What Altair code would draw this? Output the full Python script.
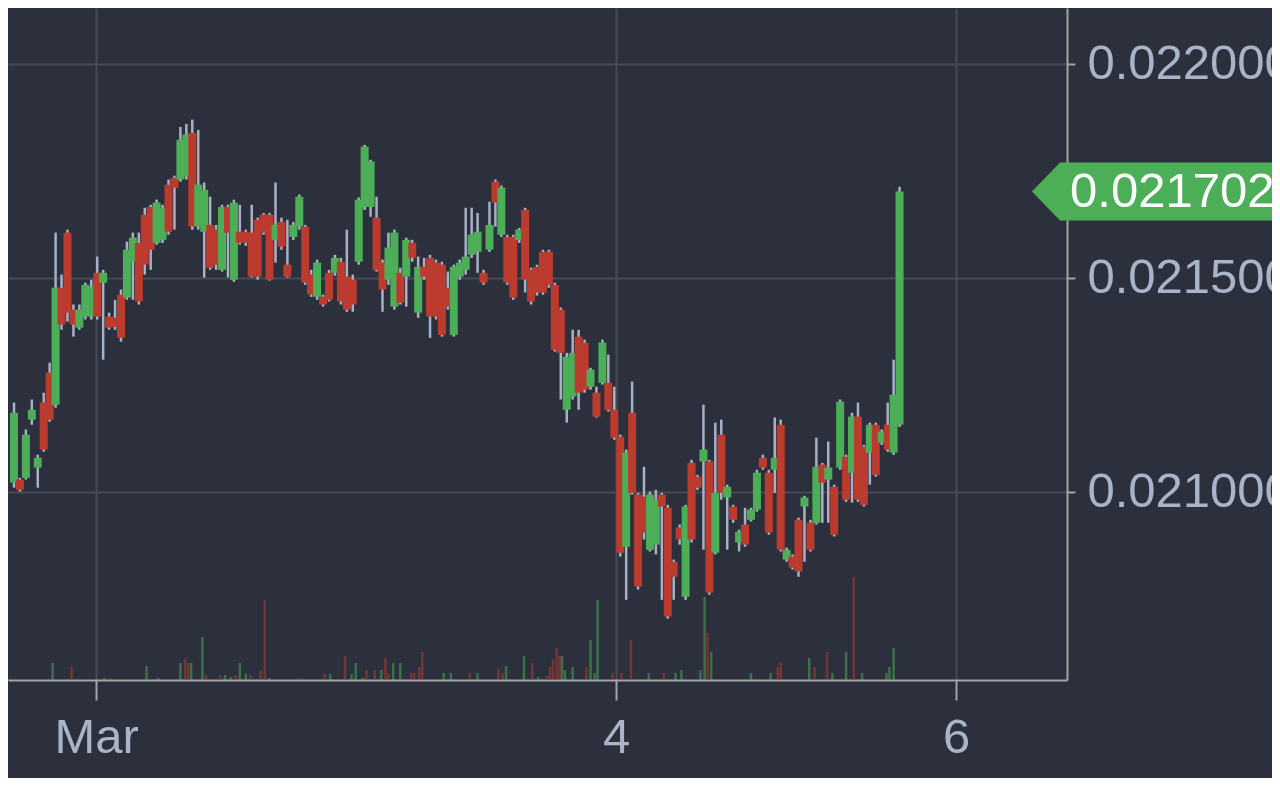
import altair as alt
import pandas as pd

# ---- candle data (prices in units of 1e-6) ----
opens_e6 = [
    21022, 21029, 21033, 21169, 21057, 21209, 21279, 21204, 21477, 21606,
    21426, 21384, 21410, 21410, 21512, 21489, 21410, 21407, 21461, 21454,
    21538, 21582, 21648, 21666, 21582, 21589, 21718, 21734, 21730, 21737,
    21839, 21620, 21608, 21624, 21613, 21519, 21666, 21496, 21608, 21608,
    21606, 21636, 21648, 21648, 21589, 21631, 21531, 21596, 21620, 21620,
    21508, 21456, 21456, 21512, 21512, 21538, 21503, 21496, 21538, 21666,
    21666, 21641, 21536, 21496, 21433, 21512, 21503, 21582, 21419, 21526,
    21547, 21536, 21531, 21477, 21367, 21503, 21519, 21554, 21561, 21512,
    21566, 21725, 21601, 21596, 21596, 21589, 21659, 21519, 21526, 21561,
    21561, 21484, 21426, 21192, 21223, 21363, 21349, 21246, 21232, 21255,
    21255, 21192, 21129, 20872, 21185, 20994, 20989, 20865, 20877, 20994,
    20963, 20837, 20917, 20755, 21068, 21036, 21071, 21071, 20858, 21134,
    20987, 20966, 20882, 20924, 20935, 20959, 21080, 21045, 21052, 21157,
    20842, 20849, 20935, 20966, 20928, 20928, 21064, 21029, 21012, 21057,
    21082, 21045, 21176, 21106, 21092, 21157, 21115, 21157, 21092, 21157,
]
highs_e6 = [
    21209, 21033, 21146, 21216, 21087, 21232, 21302, 21606, 21508, 21613,
    21438, 21438, 21489, 21496, 21550, 21519, 21419, 21449, 21473, 21585,
    21606, 21606, 21664, 21671, 21683, 21671, 21730, 21739, 21853, 21860,
    21870, 21846, 21723, 21690, 21624, 21671, 21671, 21683, 21671, 21613,
    21671, 21641, 21652, 21652, 21723, 21641, 21636, 21631, 21695, 21624,
    21519, 21543, 21461, 21519, 21554, 21547, 21613, 21508, 21688, 21811,
    21776, 21690, 21543, 21606, 21613, 21524, 21594, 21589, 21550, 21547,
    21554, 21543, 21538, 21515, 21531, 21543, 21664, 21664, 21652, 21519,
    21678, 21730, 21716, 21601, 21601, 21617, 21664, 21524, 21531, 21566,
    21566, 21489, 21431, 21325, 21379, 21379, 21356, 21290, 21246, 21356,
    21321, 21246, 21134, 21099, 21258, 20998, 21059, 21001, 21005, 20998,
    20970, 20842, 20924, 20970, 21075, 21040, 21204, 21075, 21162, 21169,
    21017, 20970, 20912, 20963, 20963, 21052, 21087, 21052, 21174, 21169,
    20870, 20854, 20940, 20991, 20935, 21127, 21068, 21118, 21017, 21216,
    21087, 21185, 21209, 21110, 21162, 21162, 21146, 21209, 21309, 21713,
]
lows_e6 = [
    21010, 21001, 21029, 21157, 21010, 21094, 21164, 21197, 21379, 21398,
    21363, 21379, 21403, 21403, 21403, 21309, 21379, 21379, 21351, 21449,
    21449, 21438, 21508, 21519, 21578, 21582, 21601, 21613, 21725, 21730,
    21613, 21613, 21501, 21519, 21519, 21515, 21501, 21491, 21578, 21575,
    21501, 21496, 21601, 21494, 21536, 21566, 21501, 21589, 21613, 21484,
    21456, 21449, 21433, 21445, 21505, 21438, 21421, 21421, 21531, 21659,
    21643, 21515, 21421, 21484, 21426, 21438, 21433, 21538, 21407, 21496,
    21360, 21403, 21363, 21426, 21363, 21496, 21508, 21547, 21512, 21484,
    21561, 21620, 21596, 21484, 21449, 21582, 21466, 21438, 21459, 21461,
    21477, 21328, 21216, 21162, 21216, 21192, 21232, 21239, 21174, 21251,
    21188, 21122, 20849, 20748, 20994, 20772, 20889, 20861, 20854, 20748,
    20704, 20748, 20877, 20748, 20882, 21005, 20865, 20760, 20854, 20982,
    20865, 20928, 20861, 20872, 20931, 20954, 21052, 20900, 20998, 20861,
    20837, 20819, 20802, 20837, 20861, 20924, 20928, 20928, 20896, 21052,
    20977, 20975, 20977, 20966, 21017, 21036, 21110, 21094, 21087, 21152,
]
closes_e6 = [
    21185, 21005, 21134, 21192, 21080, 21099, 21169, 21477, 21391, 21419,
    21391, 21426, 21484, 21480, 21410, 21512, 21384, 21386, 21360, 21566,
    21594, 21445, 21531, 21566, 21676, 21664, 21608, 21711, 21823, 21835,
    21620, 21718, 21706, 21524, 21531, 21666, 21606, 21676, 21582, 21582,
    21503, 21503, 21606, 21496, 21624, 21573, 21503, 21624, 21690, 21489,
    21461, 21536, 21438, 21449, 21547, 21445, 21426, 21438, 21683, 21807,
    21772, 21519, 21473, 21571, 21606, 21442, 21589, 21547, 21526, 21503,
    21410, 21410, 21367, 21433, 21526, 21536, 21550, 21601, 21608, 21489,
    21624, 21676, 21711, 21489, 21454, 21613, 21496, 21445, 21466, 21466,
    21484, 21332, 21325, 21316, 21325, 21232, 21239, 21286, 21176, 21349,
    21192, 21127, 20858, 21092, 20998, 20779, 20905, 20994, 20982, 20966,
    20709, 20802, 20889, 20966, 20889, 21010, 21099, 20765, 20998, 20998,
    21012, 20935, 20907, 20877, 20959, 21045, 21057, 20905, 21080, 20865,
    20865, 20823, 20814, 20987, 20865, 21059, 21022, 21057, 20900, 21211,
    20982, 21176, 20982, 20970, 21157, 21040, 21141, 21099, 21227, 21702,
]
candle_idx = list(range(1, len(opens_e6) + 1))

# ---- volume data (bar position in candle units, volume in arbitrary units) ----
vol_idx = [
    7.5, 10.7, 16.2, 17.3, 23.3, 25.3, 29.0, 29.8, 30.3, 30.8,
    32.7, 33.3, 35.7, 36.5, 37.5, 38.3, 39.0, 40.0, 40.8, 42.5,
    43.2, 44.0, 49.5, 53.3, 54.2, 56.7, 57.8, 58.5, 59.7, 60.3,
    61.7, 62.8, 63.5, 64.0, 64.8, 66.0, 67.8, 68.3, 69.2, 69.7,
    73.3, 74.5, 77.7, 79.0, 82.5, 83.2, 83.8, 86.8, 88.2, 89.2,
    90.7, 91.2, 91.7, 92.3, 92.8, 93.2, 93.7, 95.0, 97.3, 98.0,
    98.7, 99.2, 101.7, 103.2, 104.8, 107.8, 110.3, 112.3, 113.3, 116.5,
    117.2, 117.7, 118.3, 125.0, 128.3, 129.5, 130.0, 134.8, 135.7, 137.8,
    138.7, 141.0, 142.3, 143.7, 147.8, 148.3, 149.0,
]
vol_val = [
    17, 13, 2, 2, 14, 2, 17, 21, 17, 17,
    43, 5, 5, 5, 3, 5, 17, 6, 5, 10,
    80, 2, 2, 6, 6, 24, 6, 17, 2, 10,
    10, 10, 22, 7, 17, 17, 7, 7, 13, 28,
    7, 7, 7, 7, 11, 7, 14, 24, 17, 3,
    4, 13, 21, 32, 24, 24, 10, 13, 13, 40,
    7, 80, 7, 7, 40, 7, 7, 7, 10, 10,
    83, 47, 28, 7, 7, 13, 18, 22, 13, 28,
    7, 28, 103, 7, 7, 13, 32,
]
vol_dir = [
    "G", "R", "G", "R", "G", "G", "G", "R", "R", "G",
    "G", "R", "R", "G", "G", "R", "G", "G", "R", "R",
    "R", "G", "R", "R", "G", "R", "G", "G", "G", "R",
    "R", "G", "R", "R", "G", "G", "R", "R", "R", "R",
    "G", "G", "R", "G", "R", "R", "G", "G", "R", "G",
    "R", "R", "R", "R", "R", "G", "G", "G", "R", "G",
    "G", "G", "R", "R", "R", "G", "R", "G", "G", "G",
    "G", "R", "G", "G", "G", "R", "R", "G", "R", "R",
    "G", "G", "R", "G", "G", "G", "G",
]

# ---- axis ticks ----
x_tick_pos = [14.83, 102.33, 159.5]
x_tick_labels = ["Mar", "4", "6"]
y_ticks = [0.0210, 0.0215, 0.0220]

BG = "#2c303c"
GREEN = "#4caf57"
RED = "#bb3b2e"
WICK = "#a7b0c4"
GRID = "#454a56"
AXC = "#a3a3a8"
LAB = "#aab3c7"
FONT = "Liberation Sans"

df = pd.DataFrame({
    "i": candle_idx,
    "open": [v / 1e6 for v in opens_e6],
    "high": [v / 1e6 for v in highs_e6],
    "low": [v / 1e6 for v in lows_e6],
    "close": [v / 1e6 for v in closes_e6],
})
df["dir"] = ["up" if c >= o else "down" for o, c in zip(opens_e6, closes_e6)]

vol = pd.DataFrame({
    "i": vol_idx,
    "vol": vol_val,
    "dir": ["up" if d == "G" else "down" for d in vol_dir],
})

last_price = closes_e6[-1] / 1e6
tag = pd.DataFrame({"i": [177.0], "price": [last_price],
                    "label": [f"{last_price:.6f}"]})

label_expr = "'" + x_tick_labels[-1] + "'"
for pos, lab in reversed(list(zip(x_tick_pos[:-1], x_tick_labels[:-1]))):
    label_expr = f"abs(datum.value - {pos}) < 1 ? '{lab}' : ({label_expr})"

xs = alt.Scale(domain=[0.833, 177.33], nice=False, zero=False)
ys = alt.Scale(domain=[0.0205607, 0.0221308], nice=False, zero=False)

x_axis = alt.Axis(values=x_tick_pos, labelExpr=label_expr, title=None, orient="bottom",
                  grid=True, gridColor=GRID, gridWidth=2,
                  domainColor=AXC, domainWidth=2, tickColor=AXC, tickWidth=2, tickSize=20,
                  labelFontSize=49, labelColor=LAB, labelFont=FONT, labelPadding=13,
                  labelFlush=False, labelOverlap=False, labelLimit=0)
y_axis = alt.Axis(values=y_ticks, format=".6f", title=None, orient="right",
                  grid=True, gridColor=GRID, gridWidth=2,
                  domainColor=AXC, domainWidth=2, tickColor=AXC, tickWidth=2, tickSize=8,
                  labelFontSize=49, labelColor=LAB, labelFont=FONT, labelPadding=12,
                  labelBaseline="middle", labelAlign="left", labelFlush=False,
                  labelOverlap=False, labelLimit=0)

X = alt.X("i:Q", scale=xs, axis=x_axis)
col = alt.Color("dir:N", scale=alt.Scale(domain=["up", "down"], range=[GREEN, RED]), legend=None)

wick = alt.Chart(df).mark_rule(strokeWidth=2.5, color=WICK).encode(
    x=X, y=alt.Y("low:Q", scale=ys, axis=y_axis), y2="high:Q")
body = alt.Chart(df).mark_bar(width=8).encode(
    x=X, y=alt.Y("open:Q", scale=ys, axis=y_axis), y2="close:Q", color=col)
tag_shape = alt.Chart(tag).mark_point(
    shape="M -0.97 0 L 0 -1 L 9 -1 L 9 1 L 0 1 Z", size=3364, filled=True,
    color=GREEN, opacity=1, strokeWidth=0).encode(
    x=X, y=alt.Y("price:Q", scale=ys, axis=y_axis))
tag_text = alt.Chart(tag).mark_text(
    align="left", baseline="middle", dx=10, fontSize=49, color="white", font=FONT).encode(
    x=X, y=alt.Y("price:Q", scale=ys, axis=y_axis), text="label:N")

volume = alt.Chart(vol).mark_rule(strokeWidth=2.5, opacity=0.5).encode(
    x=X, y=alt.Y("vol:Q", scale=alt.Scale(domain=[0, 672], nice=False, zero=True), axis=None),
    y2=alt.datum(0), color=col)

price_layers = alt.layer(wick, body, tag_shape, tag_text)
chart = alt.layer(volume, price_layers).resolve_scale(y="independent").properties(
    width=1059, height=672,
    padding={"left": 0, "top": 0, "right": 205, "bottom": 98},
    autosize=alt.AutoSizeParams(type="none"),
    background=BG,
).configure_view(stroke=None)

chart.save("out.html", embed_options={"renderer": "svg", "actions": False})
